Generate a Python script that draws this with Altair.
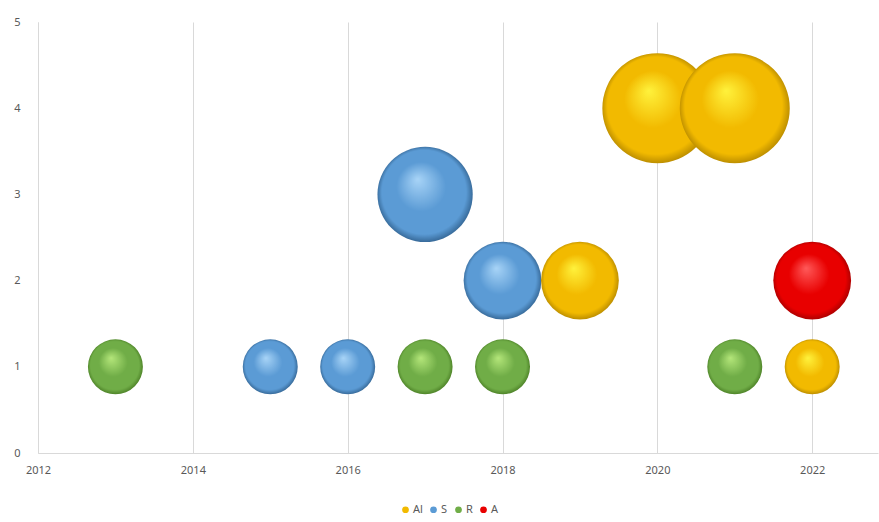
import altair as alt
import pandas as pd

# ---- data ----
years = [2013, 2015, 2016, 2017, 2018, 2021, 2022, 2017, 2018, 2019, 2020, 2021, 2022]
counts = [1, 1, 1, 1, 1, 1, 1, 3, 2, 2, 4, 4, 2]
groups = ["R", "S", "S", "R", "R", "R", "Al", "S", "S", "Al", "Al", "Al", "A"]
bubble = [1, 1, 1, 1, 1, 1, 1, 3, 2, 2, 4, 4, 2]

categories = ["Al", "S", "R", "A"]
base_colors = ["#F2BA00", "#5B9BD5", "#70AD47", "#E80000"]
highlights = ["#FFF23C", "#A8D4F7", "#B4E67A", "#FF5A5A"]
shadows = ["#B08400", "#2F5F8C", "#477A22", "#A00000"]

x_ticks = [2012, 2014, 2016, 2018, 2020, 2022]
y_ticks = [0, 1, 2, 3, 4, 5]

df = pd.DataFrame({"year": years, "count": counts, "group": groups, "bubble": bubble})

font = "Noto Sans"
grey_txt = "#595959"
grey_line = "#D9D9D9"

x_enc = alt.X(
    "year:Q",
    scale=alt.Scale(domain=[2012, 2022.85], nice=False, zero=False),
    axis=alt.Axis(values=x_ticks, format="d", title=None, grid=True, gridColor=grey_line,
                  domainColor=grey_line, ticks=False, labelColor=grey_txt, labelFont=font,
                  labelFontSize=11, labelPadding=11, labelFlush=False),
)
y_enc = alt.Y(
    "count:Q",
    scale=alt.Scale(domain=[0, 5], nice=False),
    axis=alt.Axis(values=y_ticks, title=None, grid=False, domainColor=grey_line, ticks=False,
                  labelColor=grey_txt, labelFont=font, labelFontSize=11, labelPadding=18),
)
# Vega circle symbol: radius = sqrt(size)/2 -> size 1 ~ radius 27.5 px
size_enc = alt.Size("bubble:Q", scale=alt.Scale(domain=[0, 4], range=[0, 12100], zero=True), legend=None)


def grad(hi, mid, lo):
    return {
        "gradient": "radial",
        "x1": 0.42, "y1": 0.34, "r1": 0.0,
        "x2": 0.5, "y2": 0.5, "r2": 0.52,
        "stops": [
            {"offset": 0.0, "color": hi},
            {"offset": 0.5, "color": mid},
            {"offset": 0.85, "color": mid},
            {"offset": 1.0, "color": lo},
        ],
    }


base = alt.Chart(df)

legend_layer = base.mark_circle(opacity=0).encode(
    x=x_enc, y=y_enc,
    color=alt.Color(
        "group:N",
        scale=alt.Scale(domain=categories, range=base_colors),
        legend=alt.Legend(title=None, orient="none", direction="horizontal", legendX=362, legendY=482,
                          symbolOpacity=1, symbolType="circle", symbolSize=45, labelFont=font,
                          labelFontSize=11, labelColor=grey_txt, columnPadding=5, symbolOffset=0,
                          labelOffset=2),
    ),
)

layers = [legend_layer]
for cat in ["R", "S", "Al", "A"]:
    i = categories.index(cat)
    layers.append(
        base.transform_filter(alt.datum.group == cat)
        .mark_circle(opacity=1, fill=grad(highlights[i], base_colors[i], shadows[i]), strokeWidth=0)
        .encode(x=x_enc, y=y_enc, size=size_enc)
    )

chart = alt.layer(*layers).properties(
    width=840, height=431,
    padding={"left": 38, "top": 22, "right": 1, "bottom": 69},
    autosize=alt.AutoSizeParams(type="none"),
    background="white",
).configure_view(stroke=None)

chart.save("out.html", embed_options={"renderer": "svg", "actions": False})
